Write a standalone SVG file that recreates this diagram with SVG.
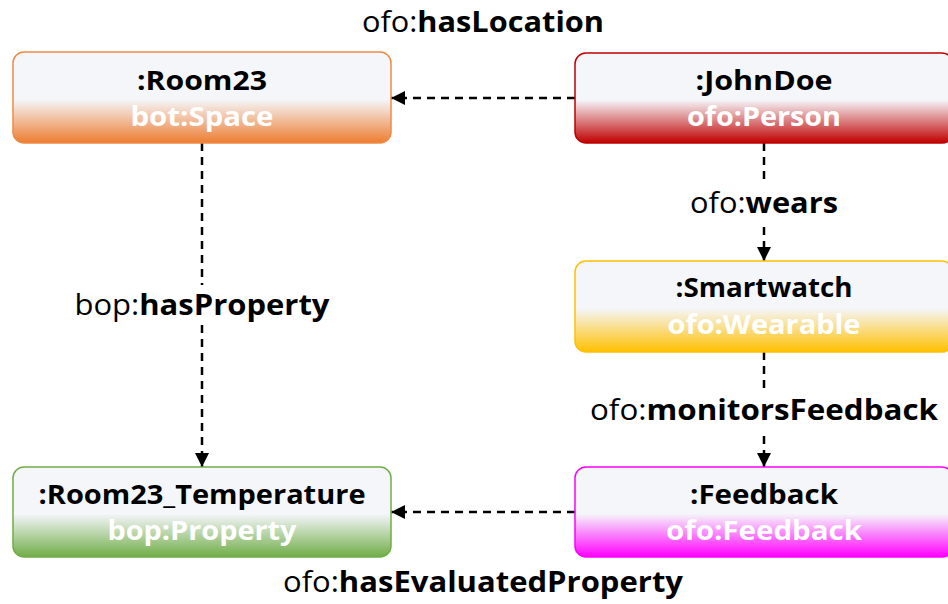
<svg xmlns="http://www.w3.org/2000/svg" width="948" height="604" viewBox="0 0 948 604">
  <style>
    .box { stroke-width: 1.5; }
    .title { font-family: "Open Sans", Lato, sans-serif; font-weight: 700; font-size: 26px; fill: #000; text-anchor: middle; }
    .type { font-family: "Open Sans", Lato, sans-serif; font-weight: 700; font-size: 26px; fill: #fff; text-anchor: middle; }
    .lbl { font-family: "Open Sans", Lato, sans-serif; font-size: 29px; fill: #000; text-anchor: middle; }
    .lbl .b { font-weight: 700; }
    .edge { fill: none; stroke: #000; stroke-width: 2.5; stroke-dasharray: 8 6; }
  </style>
  <defs>
    <marker id="arrow" viewBox="0 0 14 14" refX="14" refY="7" markerWidth="14" markerHeight="14" markerUnits="userSpaceOnUse" orient="auto">
      <path d="M0,0 L14,7 L0,14 Z" fill="#000"/>
    </marker>
    <linearGradient id="gOrange" x1="0" y1="0" x2="0" y2="1">
      <stop offset="0" stop-color="#f5f6fa"/><stop offset="0.52" stop-color="#f5f6fa"/><stop offset="1" stop-color="#ed7d31"/>
    </linearGradient>
    <linearGradient id="gRed" x1="0" y1="0" x2="0" y2="1">
      <stop offset="0" stop-color="#f5f6fa"/><stop offset="0.52" stop-color="#f5f6fa"/><stop offset="1" stop-color="#c00000"/>
    </linearGradient>
    <linearGradient id="gYellow" x1="0" y1="0" x2="0" y2="1">
      <stop offset="0" stop-color="#f5f6fa"/><stop offset="0.52" stop-color="#f5f6fa"/><stop offset="1" stop-color="#ffc000"/>
    </linearGradient>
    <linearGradient id="gGreen" x1="0" y1="0" x2="0" y2="1">
      <stop offset="0" stop-color="#f5f6fa"/><stop offset="0.52" stop-color="#f5f6fa"/><stop offset="1" stop-color="#70ad47"/>
    </linearGradient>
    <linearGradient id="gMagenta" x1="0" y1="0" x2="0" y2="1">
      <stop offset="0" stop-color="#f5f6fa"/><stop offset="0.52" stop-color="#f5f6fa"/><stop offset="1" stop-color="#ff00ff"/>
    </linearGradient>
  </defs>
  <rect width="948" height="604" fill="#fff"/>

  <g id="connectors">
    <line class="edge" x1="575" y1="98" x2="391" y2="98" marker-end="url(#arrow)"/>
    <line class="edge" x1="202" y1="143" x2="202" y2="467" marker-end="url(#arrow)"/>
    <line class="edge" x1="764" y1="143" x2="764" y2="261" marker-end="url(#arrow)"/>
    <line class="edge" x1="764" y1="352" x2="764" y2="467" marker-end="url(#arrow)"/>
    <line class="edge" x1="575" y1="512" x2="391" y2="512" marker-end="url(#arrow)"/>

    <text class="lbl" x="483" y="32" textLength="242" lengthAdjust="spacingAndGlyphs">ofo:<tspan class="b">hasLocation</tspan></text>
    <rect x="686" y="184" width="156" height="38" fill="#fff"/>
    <text class="lbl" x="764" y="213" textLength="148" lengthAdjust="spacingAndGlyphs">ofo:<tspan class="b">wears</tspan></text>
    <rect x="71" y="285" width="263" height="40" fill="#fff"/>
    <text class="lbl" x="202" y="315" textLength="255" lengthAdjust="spacingAndGlyphs">bop:<tspan class="b">hasProperty</tspan></text>
    <rect x="586" y="392" width="356" height="38" fill="#fff"/>
    <text class="lbl" x="764" y="420" textLength="348" lengthAdjust="spacingAndGlyphs">ofo:<tspan class="b">monitorsFeedback</tspan></text>
    <text class="lbl" x="483" y="592" textLength="400" lengthAdjust="spacingAndGlyphs">ofo:<tspan class="b">hasEvaluatedProperty</tspan></text>
  </g>

  <g id="room23">
    <rect class="box" x="13" y="52" width="378" height="91" rx="11" fill="url(#gOrange)" stroke="#f08a45"/>
    <text class="title" x="202" y="90" textLength="130" lengthAdjust="spacingAndGlyphs">:Room23</text>
    <text class="type" x="202" y="126" textLength="143" lengthAdjust="spacingAndGlyphs">bot:Space</text>
  </g>

  <g id="johndoe">
    <rect class="box" x="575" y="53" width="378" height="90" rx="11" fill="url(#gRed)" stroke="#c00000"/>
    <text class="title" x="764" y="90" textLength="137" lengthAdjust="spacingAndGlyphs">:JohnDoe</text>
    <text class="type" x="764" y="126" textLength="154" lengthAdjust="spacingAndGlyphs">ofo:Person</text>
  </g>

  <g id="smartwatch">
    <rect class="box" x="575" y="261" width="378" height="91" rx="11" fill="url(#gYellow)" stroke="#ffc000"/>
    <text class="title" x="764" y="297" textLength="177" lengthAdjust="spacingAndGlyphs">:Smartwatch</text>
    <text class="type" x="764" y="334" textLength="193" lengthAdjust="spacingAndGlyphs">ofo:Wearable</text>
  </g>

  <g id="room23_temperature">
    <rect class="box" x="13" y="467" width="378" height="90" rx="11" fill="url(#gGreen)" stroke="#70ad47"/>
    <text class="title" x="202" y="504" textLength="327" lengthAdjust="spacingAndGlyphs">:Room23_Temperature</text>
    <text class="type" x="202" y="540" textLength="189" lengthAdjust="spacingAndGlyphs">bop:Property</text>
  </g>

  <g id="feedback">
    <rect class="box" x="575" y="467" width="378" height="90" rx="11" fill="url(#gMagenta)" stroke="#ff00ff"/>
    <text class="title" x="764" y="504" textLength="148" lengthAdjust="spacingAndGlyphs">:Feedback</text>
    <text class="type" x="764" y="540" textLength="196" lengthAdjust="spacingAndGlyphs">ofo:Feedback</text>
  </g>
</svg>
